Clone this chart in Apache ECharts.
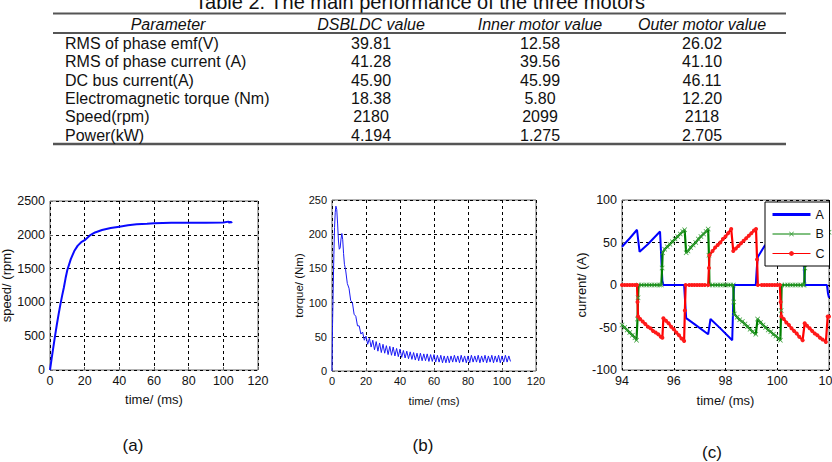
<!DOCTYPE html>
<html><head><meta charset="utf-8">
<script src="https://cdn.jsdelivr.net/npm/echarts@6/dist/echarts.min.js"></script>
<style>html,body{margin:0;padding:0;background:#fff}#c{width:832px;height:462px}</style>
</head><body><div id="c"></div>
<script>
// ---------- Table data ----------
const tableTitle = 'Table 2. The main performance of the three motors';
const tableHeader = ['Parameter', 'DSBLDC value', 'Inner motor value', 'Outer motor value'];
const paramNames = ['RMS of phase emf(V)', 'RMS of phase current (A)', 'DC bus current(A)', 'Electromagnetic torque (Nm)', 'Speed(rpm)', 'Power(kW)'];
const dsbldcValues = ['39.81', '41.28', '45.90', '18.38', '2180', '4.194'];
const innerValues = ['12.58', '39.56', '45.99', '5.80', '2099', '1.275'];
const outerValues = ['26.02', '41.10', '46.11', '12.20', '2118', '2.705'];

// ---------- (a) speed ----------
const speedTime = [0,1,2,3,4,5,6,7,8,9,10,12,14,16,18,20,23,26,30,35,40,45,50,56,60,70,80,90,100,103,103.5,104,104.5,105];
const speedValue = [0,180,350,520,680,830,970,1100,1220,1360,1480,1640,1760,1840,1890,1920,1990,2035,2070,2100,2120,2140,2155,2165,2172,2178,2180,2180,2182,2195,2175,2198,2178,2195];

// ---------- (b) torque ----------
const torqueTime = [0,0.3,0.7,1.1,1.5,1.9,2.3,2.8,3.3,3.8,4.3,4.8,5.3,5.8,6.3,6.8,7.3,8];
const torqueValue = [0,65,120,170,210,232,241,236,215,190,178,180,193,201,192,172,156,148];
const rippleStartMs = 9;   // ripple samples taken every 1 ms from 9 ms
const torqueRipple = [
  128,121,103,100,83,80,66,66,54,57,
  45,51,39,48,35,45,31,43,29,41,
  27,39,26,37,24,36,23,35,22,33,
  21,32,20,30,19,29,18,28,17,27,
  16,26,15,26,15,25,15,25,14,24,
  14,24,13,23,13,23,12,22,12,22,
  12,22,13,23,13,22,12,23,13,22,
  12,22,12,23,13,22,13,23,12,22,
  13,23,12,22,13,23,12,22,13,23,
  12,22,13,23,13,22,14
];

// ---------- (c) phase currents ----------
const phaseA = [[94.0,45],[94.3,55],[94.58,65],[94.68,39],[95.0,48],[95.47,63],[95.56,5],[95.6,0],[96.4,0],[96.44,-20],[96.48,-39],[96.8,-46],[97.33,-58],[97.42,-40],[97.8,-51],[98.26,-65],[98.3,-20],[98.33,0],[99.17,0],[99.21,20],[99.25,33],[99.49,45],[99.9,60],[100.12,65],[100.2,40],[101.0,63],[101.04,20],[101.07,0],[101.92,0],[101.96,-10],[102.0,-15]];
const phaseB = [[94.0,-47],[94.1,-50],[94.2,-53],[94.3,-56],[94.4,-59],[94.5,-62],[94.56,-65],[94.6,-40],[94.62,-15],[94.64,0],[94.75,0],[94.85,0],[94.95,0],[95.05,0],[95.15,0],[95.25,0],[95.35,0],[95.45,0],[95.52,0],[95.55,20],[95.57,38],[95.65,42],[95.75,45],[95.85,48],[95.95,51],[96.05,54],[96.15,57],[96.25,60],[96.35,63],[96.42,65],[96.48,38],[96.55,40],[96.65,44],[96.75,47],[96.85,50],[96.95,54],[97.05,57],[97.15,60],[97.25,63],[97.33,66],[97.36,35],[97.38,0],[97.5,0],[97.6,0],[97.7,0],[97.8,0],[97.9,0],[98.0,0],[98.1,0],[98.2,0],[98.3,0],[98.32,-20],[98.34,-34],[98.45,-38],[98.55,-41],[98.65,-43],[98.75,-46],[98.85,-49],[98.95,-52],[99.05,-55],[99.17,-58],[99.24,-40],[99.35,-44],[99.45,-47],[99.55,-50],[99.65,-53],[99.75,-55],[99.85,-58],[99.95,-60],[100.05,-63],[100.12,-65],[100.15,-30],[100.17,0],[100.3,0],[100.4,0],[100.5,0],[100.6,0],[100.7,0],[100.8,0],[100.9,0],[101.0,0],[101.04,0],[101.07,20],[101.1,35],[101.2,38],[101.3,41],[101.4,44],[101.5,47],[101.6,50],[101.7,53],[101.8,56],[101.9,59],[102.0,62]];
const phaseC = [[94.0,0],[94.1,0],[94.2,0],[94.3,0],[94.4,0],[94.5,0],[94.58,0],[94.6,-20],[94.62,-37],[94.7,-40],[94.8,-43],[94.9,-46],[95.0,-49],[95.1,-51],[95.2,-54],[95.3,-56],[95.4,-58],[95.5,-61],[95.56,-62],[95.6,-39],[95.7,-42],[95.8,-45],[95.9,-49],[96.0,-52],[96.1,-56],[96.2,-59],[96.3,-63],[96.4,-66],[96.43,-30],[96.46,0],[96.6,0],[96.7,0],[96.8,0],[96.9,0],[97.0,0],[97.1,0],[97.2,0],[97.33,0],[97.36,20],[97.38,35],[97.5,40],[97.6,44],[97.7,47],[97.8,50],[97.9,54],[98.0,57],[98.1,61],[98.22,66],[98.3,40],[98.4,43],[98.5,46],[98.6,49],[98.7,52],[98.8,55],[98.9,58],[99.0,61],[99.1,64],[99.18,66],[99.22,30],[99.25,0],[99.4,0],[99.5,0],[99.6,0],[99.7,0],[99.8,0],[99.9,0],[100.0,0],[100.1,0],[100.13,-20],[100.16,-37],[100.25,-40],[100.35,-44],[100.45,-47],[100.55,-51],[100.65,-54],[100.75,-57],[100.85,-61],[100.98,-65],[101.06,-45],[101.15,-48],[101.25,-51],[101.35,-54],[101.45,-57],[101.55,-59],[101.65,-62],[101.75,-64],[101.88,-67],[101.95,-37],[102.0,-37]];

const subLabels = ['(a)', '(b)', '(c)'];

// ---------- build ----------
const FONT = "'Liberation Sans', Arial, sans-serif";
const chart = echarts.init(document.getElementById('c'), null, {renderer: 'svg'});

function txt(text, x, y, size, align, italic) {
  return {type: 'text', x: x, y: y, silent: true,
    style: {text: text, fontSize: size, fontFamily: FONT, fontStyle: italic ? 'italic' : 'normal',
      fill: '#111', align: align, textAlign: align, verticalAlign: 'middle', textVerticalAlign: 'middle'}};
}
function rule(y, w) {
  return {type: 'line', silent: true, shape: {x1: 53, y1: y, x2: 786, y2: y}, style: {stroke: '#555', lineWidth: w}};
}
const colX = [168, 371, 540, 702];
const graphics = [];
graphics.push(txt(tableTitle, 420, 2, 20, 'center', false));
graphics.push(rule(13.5, 2), rule(33, 2), rule(144, 2.5));
tableHeader.forEach((h, i) => graphics.push(txt(h, colX[i], 24, 16, 'center', true)));
paramNames.forEach((p, r) => {
  const y = 43.5 + r * 18.3;
  graphics.push(txt(p, 65, y, 16, 'left', false));
  graphics.push(txt(dsbldcValues[r], colX[1], y, 16, 'center', false));
  graphics.push(txt(innerValues[r], colX[2], y, 16, 'center', false));
  graphics.push(txt(outerValues[r], colX[3], y, 16, 'center', false));
});
const subPos = [[133, 445], [423, 445], [712, 452]];
subLabels.forEach((s, i) => graphics.push(txt(s, subPos[i][0], subPos[i][1], 17, 'center', false)));

function grid(left, top, width, height) {
  return {left: left, top: top, width: width, height: height, show: true, borderColor: '#666', borderWidth: 1,
    backgroundColor: 'transparent', containLabel: false, outerBoundsMode: 'none'};
}
function axis(kind, idx, min, max, interval, name, fs, nameGap, labelMargin) {
  return {type: 'value', gridIndex: idx, min: min, max: max, interval: interval,
    name: name, nameLocation: 'middle', nameGap: nameGap,
    nameTextStyle: {fontSize: fs + 0.5, fontFamily: FONT, color: '#111'},
    axisLine: {show: false},
    axisTick: {show: true, inside: true, length: 3, lineStyle: {color: '#666'}},
    axisLabel: {show: true, fontSize: fs, fontFamily: FONT, color: '#111', margin: labelMargin,
      formatter: v => String(v)},
    splitLine: {show: true, lineStyle: {color: '#000', type: [3, 3], width: 1}}};
}

const crossSym = 'path://M0,1L1,0L5,4L9,0L10,1L6,5L10,9L9,10L5,6L1,10L0,9L4,5Z';

const option = {
  animation: false,
  backgroundColor: '#fff',
  graphic: graphics,
  grid: [grid(50, 201, 208, 169), grid(332, 200, 204, 171), grid(622, 200, 207, 170)],
  xAxis: [
    axis('x', 0, 0, 120, 20, 'time/ (ms)', 12.5, 23, 4),
    axis('x', 1, 0, 120, 20, 'time/ (ms)', 11, 24, 4),
    axis('x', 2, 94, 102, 2, 'time/ (ms)', 12.5, 24, 4)
  ],
  yAxis: [
    axis('y', 0, 0, 2500, 500, 'speed/ (rpm)', 12.5, 35, 5),
    axis('y', 1, 0, 250, 50, 'torque/ (Nm)', 11, 21, 5),
    axis('y', 2, -100, 100, 50, 'current/ (A)', 12.5, 25, 5)
  ],
  legend: {
    data: [
      {name: 'A', itemStyle: {opacity: 0}, lineStyle: {width: 3}},
      {name: 'B', lineStyle: {width: 1}},
      {name: 'C', lineStyle: {width: 1}}
    ],
    orient: 'vertical', left: 765, top: 202,
    itemWidth: 38, itemHeight: 6, itemGap: 6.5, padding: [6, 5, 6, 6],
    backgroundColor: '#fff', borderColor: '#000', borderWidth: 1, borderRadius: 0,
    textStyle: {fontSize: 12.5, fontFamily: FONT, color: '#111'}, z: 20
  },
  series: [
    {type: 'line', name: 'speed', xAxisIndex: 0, yAxisIndex: 0, showSymbol: false,
      data: speedTime.map((t, i) => [t, speedValue[i]]),
      lineStyle: {color: '#0a0aff', width: 2}, itemStyle: {color: '#0a0aff'}},
    {type: 'line', name: 'torque', xAxisIndex: 1, yAxisIndex: 1, showSymbol: false,
      data: torqueTime.map((t, i) => [t, torqueValue[i]]).concat(torqueRipple.map((v, i) => [rippleStartMs + i, v])),
      lineStyle: {color: '#1a1af5', width: 1}, itemStyle: {color: '#1a1af5'}},
    {type: 'line', name: 'A', xAxisIndex: 2, yAxisIndex: 2, showSymbol: false, symbol: 'none',
      data: phaseA, lineStyle: {color: '#0000ff', width: 2}, itemStyle: {color: '#0000ff'}},
    {type: 'line', name: 'B', xAxisIndex: 2, yAxisIndex: 2, showSymbol: true, showAllSymbol: true,
      symbol: crossSym, symbolSize: 5,
      data: phaseB, lineStyle: {color: '#008000', width: 2.2}, itemStyle: {color: '#3a9f3a'}},
    {type: 'line', name: 'C', xAxisIndex: 2, yAxisIndex: 2, showSymbol: true, showAllSymbol: true,
      symbol: 'circle', symbolSize: 4,
      data: phaseC, lineStyle: {color: '#ff0000', width: 2.2}, itemStyle: {color: '#ff1a1a'}}
  ]
};
chart.setOption(option);
</script></body></html>
